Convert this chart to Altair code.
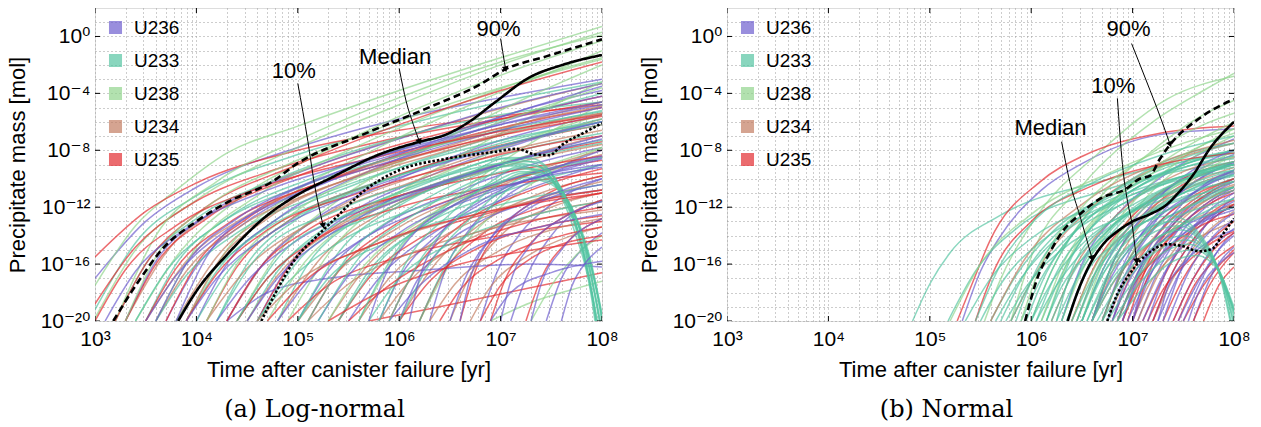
import altair as alt
import pandas as pd

ISOTOPES = ["U236", "U233", "U238", "U234", "U235"]
COLORS = ["#6a5acd", "#52c4a0", "#8fd48a", "#c27a5e", "#e3262b"]

X_EXP = [3, 4, 5, 6, 7, 8]
X_LABELS = ["10³", "10⁴", "10⁵", "10⁶", "10⁷", "10⁸"]
Y_EXP = [-20, -16, -12, -8, -4, 0]
Y_LABELS = ["10⁻²⁰", "10⁻¹⁶", "10⁻¹²", "10⁻⁸", "10⁻⁴", "10⁰"]

# ---- panel (a) log-normal: each line = flat list of log10(t), log10(mass) ----
A_U236 = [
    [3.0, -17.0, 3.5, -13.0, 4.0, -10.6, 5.0, -7.8, 6.0, -5.8, 7.0, -4.3, 8.0, -3.0],
    [3.3, -20, 3.6, -15.8, 4.1, -12.6, 5.0, -9.6, 6.0, -7.2, 7.0, -5.0, 8.0, -3.3],
    [3.7, -20, 4.0, -16.2, 4.5, -13.0, 5.3, -10.2, 6.3, -7.5, 7.3, -5.0, 8.0, -3.8],
    [4.0, -20, 4.3, -16.0, 4.8, -12.8, 5.6, -9.8, 6.6, -7.0, 7.5, -5.0, 8.0, -4.2],
    [4.3, -20, 4.6, -16.5, 5.1, -13.2, 6.0, -10.0, 7.0, -7.3, 8.0, -5.5],
    [4.6, -20, 4.9, -16.2, 5.4, -13.0, 6.3, -9.8, 7.2, -7.5, 8.0, -6.0],
    [5.0, -20, 5.3, -16.5, 5.8, -13.5, 6.6, -10.8, 7.4, -8.8, 8.0, -7.8],
    [5.5, -20, 5.8, -17.0, 6.3, -14.0, 7.0, -11.5, 8.0, -9.0],
    [6.3, -20, 6.45, -16.5, 6.7, -13.5, 7.1, -11.0, 7.6, -9.3, 8.0, -8.5],
    [6.8, -20, 6.95, -16.8, 7.2, -13.8, 7.5, -11.8, 8.0, -10.0],
    [7.1, -20, 7.25, -17.0, 7.5, -14.0, 8.0, -11.5],
    [7.45, -20, 7.6, -17.0, 7.8, -15.0, 8.0, -13.8],
    [4.3, -20, 4.7, -18.0, 5.3, -17.0, 6.3, -16.4, 7.3, -16.0, 8.0, -16.2],
    [3.8, -20, 4.1, -15.5, 4.6, -12.2, 5.3, -9.8, 6.2, -7.5, 7.2, -5.2, 8.0, -3.5],
    [5.8, -20, 6.0, -17.0, 6.4, -13.8, 7.0, -11.0, 7.7, -8.8, 8.0, -8.0],
    [6.0, -20, 6.15, -17.5, 6.4, -15.0, 6.8, -13.0, 7.4, -11.5, 8.0, -10.8],
    [3.5, -20, 3.8, -16.8, 4.3, -13.6, 5.0, -11.0, 6.0, -8.6, 7.0, -6.6, 8.0, -5.0],
    [3.9, -20, 4.2, -17.0, 4.7, -14.0, 5.4, -11.5, 6.4, -9.0, 7.4, -7.0, 8.0, -6.0],
    [4.2, -20, 4.5, -17.2, 5.0, -14.3, 5.8, -11.8, 6.8, -9.4, 8.0, -7.2],
    [4.5, -20, 4.8, -17.0, 5.3, -14.0, 6.1, -11.2, 7.1, -8.8, 8.0, -7.0],
    [4.8, -20, 5.1, -17.2, 5.6, -14.4, 6.4, -11.8, 7.3, -9.6, 8.0, -8.4],
    [3.6, -20, 3.9, -16.0, 4.4, -12.8, 5.1, -10.3, 6.1, -8.0, 7.1, -6.0, 8.0, -4.6],
    [5.2, -20, 5.5, -16.8, 6.0, -13.8, 6.8, -11.2, 7.7, -9.2, 8.0, -8.6],
    [3.1, -20, 3.4, -16.5, 3.9, -13.5, 4.7, -10.8, 5.8, -8.4, 7.0, -6.2, 8.0, -4.8],
    [6.5, -20, 6.65, -17.0, 6.9, -14.2, 7.3, -12.0, 8.0, -10.4],
    [5.9, -20, 6.2, -17.5, 6.7, -15.0, 7.5, -13.2, 8.0, -12.5],
    [6.1, -20, 6.2, -17.0, 6.4, -14.0, 6.8, -11.6, 7.4, -9.8, 8.0, -9.0],
    [6.6, -20, 6.7, -17.0, 6.9, -14.2, 7.2, -12.2, 7.7, -10.6, 8.0, -10.0],
    [7.0, -20, 7.1, -17.2, 7.3, -14.6, 7.6, -12.8, 8.0, -11.6],
    [7.3, -20, 7.4, -17.4, 7.6, -15.0, 8.0, -12.8],
    [7.6, -20, 7.7, -17.6, 7.85, -15.8, 8.0, -14.8],
    [5.7, -20, 5.85, -17.0, 6.1, -14.2, 6.5, -12.0, 7.2, -10.2, 8.0, -9.2],
    [6.9, -20, 7.1, -18.0, 7.5, -16.6, 8.0, -15.8],
]
A_U233 = [
    [3.0, -19.2, 3.4, -14.5, 4.0, -11.2, 5.0, -8.3, 6.0, -6.3, 7.0, -4.6, 8.0, -3.2],
    [3.5, -20, 3.8, -16.0, 4.3, -12.8, 5.2, -9.8, 6.3, -7.3, 7.3, -5.3, 8.0, -4.0],
    [3.9, -20, 4.2, -16.5, 4.7, -13.3, 5.6, -10.3, 6.6, -7.8, 7.6, -5.8, 8.0, -5.2],
    [4.2, -20, 4.5, -16.0, 5.0, -12.8, 5.9, -10.0, 7.0, -7.5, 8.0, -5.8],
    [4.5, -20, 4.8, -16.5, 5.3, -13.3, 6.2, -10.5, 7.2, -8.0, 8.0, -6.8],
    [3.2, -20, 3.5, -16.0, 4.0, -12.8, 4.8, -10.0, 5.8, -7.5, 7.0, -5.5, 8.0, -4.6],
    [4.8, -20, 5.1, -16.0, 5.6, -12.8, 6.5, -10.0, 7.5, -8.0, 8.0, -7.3],
    [5.4, -20, 5.7, -16.5, 6.2, -13.5, 7.0, -11.0, 8.0, -9.0],
    [3.4, -20, 3.7, -16.5, 4.2, -13.3, 5.0, -10.6, 6.0, -8.4, 7.0, -6.6, 8.0, -5.3],
    [3.8, -20, 4.1, -17.0, 4.6, -13.9, 5.4, -11.2, 6.4, -8.9, 7.4, -7.0, 8.0, -6.2],
    [4.0, -20, 4.3, -16.6, 4.8, -13.5, 5.6, -10.8, 6.6, -8.5, 7.6, -6.6, 8.0, -6.0],
    [4.4, -20, 4.7, -17.0, 5.2, -14.0, 6.0, -11.4, 7.0, -9.0, 8.0, -7.5],
    [3.6, -20, 3.9, -16.8, 4.4, -13.8, 5.2, -11.2, 6.2, -8.8, 7.2, -7.0, 8.0, -6.0],
    [4.6, -20, 4.9, -17.3, 5.4, -14.5, 6.2, -12.0, 7.2, -9.8, 8.0, -8.5],
    [5.0, -20, 5.3, -17.0, 5.9, -14.4, 6.8, -12.2, 8.0, -10.4],
    [5.7, -20, 6.0, -17.0, 6.5, -14.6, 7.3, -12.6, 8.0, -11.6],
    # decaying bundle
    [4.2, -20, 4.6, -15.5, 5.4, -12.2, 6.4, -9.8, 7.05, -8.6, 7.3, -8.8, 7.52, -10.2, 7.72, -13.5, 7.9, -18.5, 7.95, -21],
    [4.6, -20, 5.0, -15.8, 5.8, -12.4, 6.6, -10.0, 7.12, -9.1, 7.38, -9.4, 7.58, -10.9, 7.78, -14.2, 7.93, -19.0, 7.98, -21],
    [5.0, -20, 5.4, -15.2, 6.0, -11.9, 6.7, -9.6, 7.08, -8.5, 7.32, -8.6, 7.54, -10.0, 7.74, -13.2, 7.91, -18.4, 7.96, -21],
    [5.4, -20, 5.8, -15.9, 6.35, -12.8, 6.9, -10.4, 7.2, -9.5, 7.45, -9.8, 7.65, -11.4, 7.84, -14.8, 7.98, -19.2, 8.02, -21],
    [5.8, -20, 6.1, -15.5, 6.5, -12.5, 6.95, -10.0, 7.15, -9.2, 7.4, -9.5, 7.6, -11.0, 7.8, -14.4, 7.95, -19.0, 8.0, -21],
    [6.2, -20, 6.45, -16.2, 6.8, -12.8, 7.1, -10.6, 7.28, -10.0, 7.5, -10.4, 7.7, -12.0, 7.88, -15.5, 8.0, -19.5, 8.04, -21],
    [4.4, -20, 4.8, -15.6, 5.6, -12.2, 6.5, -9.7, 7.1, -8.9, 7.36, -9.1, 7.56, -10.6, 7.76, -13.9, 7.92, -18.8, 7.97, -21],
    [5.2, -20, 5.6, -15.6, 6.2, -12.3, 6.8, -10.0, 7.18, -9.3, 7.42, -9.6, 7.62, -11.1, 7.82, -14.5, 7.96, -19.1, 8.01, -21],
    [5.6, -20, 5.95, -15.3, 6.45, -12.0, 6.9, -9.7, 7.1, -8.8, 7.34, -8.8, 7.55, -10.2, 7.75, -13.4, 7.91, -18.6, 7.96, -21],
    [6.0, -20, 6.3, -16.0, 6.7, -12.8, 7.05, -10.6, 7.25, -9.9, 7.48, -10.2, 7.68, -11.8, 7.86, -15.2, 7.99, -19.4, 8.03, -21],
    [5.1, -20, 5.5, -15.4, 6.1, -12.1, 6.75, -9.8, 7.14, -9.0, 7.4, -9.2, 7.6, -10.7, 7.8, -14.0, 7.95, -18.9, 8.0, -21],
    [5.9, -20, 6.2, -15.8, 6.6, -12.6, 7.0, -10.3, 7.22, -9.6, 7.46, -10.0, 7.66, -11.6, 7.85, -15.0, 7.99, -19.3, 8.03, -21],
]
A_U238 = [
    [3.0, -17.5, 3.4, -13.3, 3.8, -10.8, 4.3, -8.2, 5.0, -6.3, 6.0, -3.8, 7.0, -1.5, 8.0, 0.7],
    [3.0, -19.8, 3.4, -15.0, 4.0, -11.5, 5.0, -7.8, 6.0, -4.8, 7.0, -2.0, 8.0, 0.3],
    [3.4, -20, 3.8, -15.5, 4.4, -11.5, 5.2, -8.3, 6.2, -5.0, 7.2, -2.2, 8.0, -0.3],
    [3.9, -20, 4.3, -15.0, 4.9, -11.3, 5.8, -7.8, 6.8, -4.5, 7.6, -2.2, 8.0, -1.0],
    [4.4, -20, 4.8, -15.3, 5.4, -11.5, 6.3, -7.8, 7.2, -4.5, 8.0, -2.0],
    [4.9, -20, 5.3, -15.3, 6.0, -11.0, 6.9, -7.2, 7.7, -4.2, 8.0, -3.2],
    [5.6, -20, 6.0, -15.0, 6.6, -11.0, 7.3, -7.5, 8.0, -4.8],
    [6.2, -20, 6.5, -16.0, 7.0, -12.0, 7.5, -9.5, 8.0, -7.8],
    [6.9, -20, 7.3, -18.7, 7.7, -17.8, 8.0, -17.2],
    [3.2, -20, 3.6, -14.0, 4.2, -10.2, 5.0, -7.3, 6.0, -4.3, 7.0, -1.8, 8.0, 0.1],
    [3.6, -20, 4.0, -14.8, 4.6, -11.2, 5.5, -8.0, 6.5, -5.0, 7.5, -2.5, 8.0, -1.5],
    [7.3, -20, 7.55, -17.0, 7.8, -15.0, 8.0, -14.0],
    [3.3, -20, 3.6, -15.5, 4.1, -12.0, 4.9, -9.0, 5.9, -6.2, 7.0, -3.6, 8.0, -1.6],
    [4.1, -20, 4.4, -16.0, 5.0, -12.2, 5.9, -9.0, 7.0, -6.0, 8.0, -3.6],
    [4.7, -20, 5.0, -16.5, 5.6, -12.6, 6.5, -9.4, 7.5, -6.6, 8.0, -5.5],
    [5.3, -20, 5.6, -16.6, 6.2, -13.0, 7.1, -10.0, 8.0, -7.8],
]
A_U234 = [
    [3.3, -20, 3.7, -15.2, 4.3, -11.8, 5.3, -8.8, 6.3, -6.5, 7.3, -4.5, 8.0, -3.3],
    [3.8, -20, 4.2, -15.5, 4.8, -12.2, 5.8, -9.3, 6.8, -7.0, 7.6, -5.3, 8.0, -4.6],
    [4.3, -20, 4.7, -15.6, 5.3, -12.4, 6.3, -9.5, 7.3, -7.2, 8.0, -5.8],
    [4.8, -20, 5.2, -15.8, 5.8, -12.5, 6.8, -9.5, 7.7, -7.5, 8.0, -7.0],
    [5.3, -20, 5.7, -16.0, 6.3, -12.8, 7.1, -10.2, 8.0, -8.3],
    [6.0, -20, 6.3, -16.5, 6.8, -13.2, 7.4, -11.0, 8.0, -9.8],
    [6.5, -20, 6.7, -16.8, 7.0, -14.0, 7.5, -12.0, 8.0, -11.0],
    [3.5, -20, 3.9, -15.8, 4.5, -12.6, 5.5, -9.6, 6.5, -7.4, 7.5, -5.6, 8.0, -4.9],
    [5.0, -20, 5.4, -16.5, 6.0, -13.4, 6.9, -10.6, 7.8, -8.4, 8.0, -8.0],
    [4.1, -20, 4.5, -16.3, 5.1, -13.2, 6.1, -10.3, 7.1, -8.0, 8.0, -6.6],
    [3.6, -20, 3.9, -16.5, 4.4, -13.5, 5.2, -10.8, 6.2, -8.6, 7.2, -6.6, 8.0, -5.4],
    [4.5, -20, 4.8, -16.8, 5.3, -13.8, 6.2, -11.0, 7.2, -8.8, 8.0, -7.6],
    [5.6, -20, 5.9, -17.0, 6.4, -14.2, 7.2, -11.8, 8.0, -10.2],
    [3.9, -20, 4.2, -16.0, 4.7, -12.8, 5.5, -10.0, 6.5, -7.8, 7.5, -6.0, 8.0, -5.4],
    [5.8, -20, 6.1, -17.2, 6.6, -14.6, 7.3, -12.6, 8.0, -11.6],
    [6.3, -20, 6.55, -17.4, 7.0, -15.0, 7.6, -13.4, 8.0, -12.8],
    [5.1, -20, 5.5, -17.4, 6.2, -15.0, 7.1, -13.2, 8.0, -12.2],
    [6.7, -20, 6.9, -17.6, 7.25, -15.5, 7.7, -14.0, 8.0, -13.4],
    [4.6, -20, 5.0, -17.2, 5.7, -14.8, 6.6, -12.8, 7.6, -11.2, 8.0, -10.8],
]
A_U235 = [
    [3.0, -15.5, 3.5, -12.3, 4.0, -10.3, 5.0, -8.0, 6.0, -6.6, 7.0, -5.6, 8.0, -4.8],
    [3.0, -18.8, 3.4, -14.8, 3.9, -12.0, 4.8, -9.3, 5.8, -7.4, 7.0, -5.8, 8.0, -4.6],
    [3.3, -20, 3.6, -16.0, 4.1, -12.8, 5.0, -9.8, 6.0, -7.6, 7.0, -5.8, 8.0, -4.2],
    [3.7, -20, 4.0, -16.0, 4.5, -12.8, 5.4, -9.8, 6.4, -7.5, 7.4, -5.8, 8.0, -5.0],
    [4.1, -20, 4.4, -16.2, 4.9, -13.0, 5.8, -10.2, 6.8, -8.0, 8.0, -6.2],
    [4.6, -20, 4.9, -16.3, 5.4, -13.2, 6.3, -10.5, 7.3, -8.4, 8.0, -7.4],
    [5.1, -20, 5.4, -16.5, 5.9, -13.5, 6.7, -11.0, 7.6, -9.2, 8.0, -8.7],
    [5.7, -20, 6.4, -19.0, 7.2, -17.8, 8.0, -16.6],
    [6.6, -20, 6.75, -16.5, 7.0, -13.6, 7.4, -11.3, 8.0, -9.8],
    [5.9, -20, 6.15, -16.5, 6.6, -13.3, 7.3, -10.8, 8.0, -9.3],
    [7.25, -20, 7.4, -17.0, 7.65, -14.5, 8.0, -12.8],
    [3.2, -20, 3.5, -16.0, 4.0, -12.5, 5.0, -9.0, 6.0, -6.2, 7.0, -3.8, 8.0, -1.8],
    [4.4, -20, 4.7, -17.0, 5.2, -14.2, 6.0, -12.0, 7.0, -10.5, 8.0, -9.6],
    [6.2, -20, 6.4, -17.0, 6.8, -14.0, 7.4, -12.0, 8.0, -11.0],
    [4.9, -20, 5.3, -17.5, 6.0, -15.5, 7.0, -14.0, 8.0, -13.0],
    [3.5, -20, 3.8, -16.3, 4.3, -13.2, 5.1, -10.6, 6.1, -8.5, 7.1, -6.8, 8.0, -5.6],
    [3.9, -20, 4.2, -16.7, 4.7, -13.6, 5.6, -11.0, 6.6, -9.0, 7.6, -7.4, 8.0, -7.0],
    [4.3, -20, 4.6, -16.5, 5.1, -13.6, 6.0, -11.2, 7.0, -9.6, 8.0, -8.4],
    [5.4, -20, 5.7, -17.0, 6.2, -14.2, 7.0, -12.2, 8.0, -10.8],
    [3.0, -20, 3.3, -16.4, 3.8, -13.3, 4.6, -10.7, 5.7, -8.6, 6.9, -6.8, 8.0, -5.5],
    [6.9, -20, 7.05, -17.0, 7.3, -14.5, 7.7, -12.4, 8.0, -11.5],
    [5.5, -20, 5.9, -17.5, 6.5, -15.0, 7.3, -13.0, 8.0, -12.0],
    [6.0, -20, 6.3, -17.2, 6.8, -14.8, 7.5, -13.2, 8.0, -12.6],
    [6.4, -20, 6.6, -17.8, 7.0, -15.6, 7.6, -14.0, 8.0, -13.4],
    [5.3, -20, 5.8, -18.0, 6.6, -16.0, 7.5, -14.8, 8.0, -14.3],
    [6.8, -20, 7.0, -17.5, 7.3, -15.6, 7.7, -14.4, 8.0, -14.0],
    [4.7, -20, 5.1, -17.0, 5.8, -14.5, 6.7, -12.6, 7.6, -11.4, 8.0, -11.0],
]
A_MEDIAN = [3.82, -20, 4.0, -17.9, 4.32, -15.2, 4.66, -12.8, 4.98, -11.2, 5.31, -10.0, 5.8, -8.3,
            6.2, -7.4, 6.46, -6.9, 6.69, -6.0, 6.95, -4.6, 7.28, -2.9, 7.61, -2.0, 8.0, -1.3]
A_P90 = [3.18, -20, 3.43, -17.2, 3.67, -14.9, 4.0, -13.0, 4.32, -11.6, 4.75, -10.2, 4.98, -9.0,
         5.64, -6.9, 6.29, -5.0, 6.79, -3.4, 7.05, -2.3, 7.45, -1.4, 8.0, -0.2]
A_P10 = [4.64, -20, 4.79, -17.9, 4.98, -15.6, 5.18, -14.1, 5.31, -13.2, 5.7, -10.6, 6.0, -9.4,
         6.46, -8.6, 6.95, -8.1, 7.15, -7.9, 7.35, -8.3, 7.48, -8.35, 7.61, -7.6, 7.84, -6.7, 8.0, -6.1]

# ---- panel (b) normal ----
B_U236 = [
    [5.32, -20, 5.5, -16.5, 5.69, -14.1, 6.1, -10.8, 6.51, -8.9, 7.27, -6.9, 8.0, -6.5],
    [6.3, -20, 6.5, -16.0, 6.85, -12.5, 7.3, -9.8, 8.0, -7.2],
    [6.5, -20, 6.7, -16.5, 7.0, -13.0, 7.5, -10.0, 8.0, -8.3],
    [6.7, -20, 6.9, -16.2, 7.2, -12.8, 7.6, -10.3, 8.0, -8.8],
    [6.8, -20, 7.0, -15.8, 7.3, -12.3, 7.7, -9.8, 8.0, -8.9],
    [6.9, -20, 7.1, -16.2, 7.4, -13.0, 7.75, -11.0, 8.0, -10.0],
    [7.05, -20, 7.25, -16.5, 7.5, -13.6, 7.8, -11.6, 8.0, -10.8],
    [7.2, -20, 7.4, -16.5, 7.65, -13.8, 8.0, -11.8],
    [7.4, -20, 7.6, -17.0, 7.8, -14.8, 8.0, -13.5],
    [7.6, -20, 7.8, -16.5, 8.0, -14.8],
    [6.95, -20, 7.15, -17.0, 7.45, -14.2, 7.8, -12.5, 8.0, -12.0],
    [6.6, -20, 6.8, -16.0, 7.1, -12.6, 7.55, -9.6, 8.0, -8.0],
    [7.3, -20, 7.5, -16.0, 7.75, -13.0, 8.0, -11.3],
    [7.5, -20, 7.7, -16.8, 7.9, -14.5, 8.0, -13.8],
    [6.75, -20, 6.95, -16.4, 7.25, -13.2, 7.65, -10.8, 8.0, -9.4],
    [6.85, -20, 7.05, -16.6, 7.35, -13.6, 7.7, -11.4, 8.0, -10.2],
    [7.0, -20, 7.2, -16.4, 7.45, -13.6, 7.8, -11.4, 8.0, -10.6],
    [7.1, -20, 7.3, -16.8, 7.55, -14.2, 7.85, -12.2, 8.0, -11.6],
    [7.15, -20, 7.35, -16.2, 7.6, -13.4, 8.0, -11.0],
    [7.25, -20, 7.45, -16.8, 7.7, -14.2, 8.0, -12.4],
    [7.35, -20, 7.55, -16.6, 7.8, -14.0, 8.0, -12.9],
    [6.6, -20, 6.8, -16.8, 7.1, -13.8, 7.55, -11.2, 8.0, -9.6],
    [7.45, -20, 7.65, -17.2, 7.85, -15.0, 8.0, -14.0],
    [6.9, -20, 7.1, -15.8, 7.4, -12.5, 7.75, -10.2, 8.0, -9.4],
    [7.0, -20, 7.1, -17.4, 7.3, -15.2, 7.6, -13.4, 8.0, -12.2],
    [7.25, -20, 7.35, -17.6, 7.55, -15.6, 7.8, -14.2, 8.0, -13.6],
    [6.8, -20, 6.95, -17.4, 7.2, -15.0, 7.6, -13.0, 8.0, -12.0],
    [7.55, -20, 7.65, -18.0, 7.85, -16.0, 8.0, -15.2],
]
B_U233 = [
    [4.83, -20, 5.0, -17.4, 5.2, -15.2, 5.69, -12.6, 6.68, -10.2, 8.0, -8.1],
    [5.18, -20, 5.45, -16.5, 5.89, -13.3, 6.68, -10.9, 8.0, -8.8],
    [5.6, -20, 5.85, -16.8, 6.2, -13.8, 6.8, -11.0, 7.5, -8.8, 8.0, -8.0],
    [5.7, -20, 5.95, -16.5, 6.3, -13.5, 6.9, -10.5, 7.6, -8.3, 8.0, -7.5],
    [5.9, -20, 6.1, -17.0, 6.4, -14.0, 6.9, -11.0, 7.5, -9.0, 8.0, -8.0],
    [6.0, -20, 6.2, -16.5, 6.5, -13.0, 7.0, -10.0, 7.5, -8.3, 8.0, -7.5],
    [6.1, -20, 6.35, -16.0, 6.7, -12.5, 7.2, -10.0, 8.0, -8.0],
    [6.15, -20, 6.4, -15.5, 6.8, -12.0, 7.4, -9.3, 8.0, -8.2],
    [6.25, -20, 6.45, -17.0, 6.8, -13.5, 7.3, -11.0, 8.0, -9.0],
    [6.35, -20, 6.55, -16.5, 6.9, -13.0, 7.4, -10.5, 8.0, -9.0],
    [6.5, -20, 6.7, -16.5, 7.0, -13.5, 7.5, -11.0, 8.0, -9.5],
    [6.6, -20, 6.8, -16.0, 7.1, -13.0, 7.6, -11.0, 8.0, -10.0],
    [5.45, -20, 5.7, -16.0, 6.05, -12.8, 6.6, -10.3, 7.3, -8.3, 8.0, -7.0],
    [6.05, -20, 6.25, -17.5, 6.55, -14.8, 7.0, -12.3, 7.6, -10.5, 8.0, -9.8],
    [5.8, -20, 6.0, -17.2, 6.35, -14.2, 6.95, -11.6, 7.6, -9.6, 8.0, -8.8],
    [5.95, -20, 6.15, -16.6, 6.45, -13.6, 6.95, -11.0, 7.6, -9.0, 8.0, -8.4],
    [6.2, -20, 6.4, -16.8, 6.7, -14.0, 7.2, -11.5, 7.8, -9.8, 8.0, -9.4],
    [6.3, -20, 6.5, -16.2, 6.85, -13.0, 7.35, -10.6, 8.0, -8.8],
    [6.4, -20, 6.6, -17.0, 6.95, -14.0, 7.45, -11.8, 8.0, -10.2],
    [6.45, -20, 6.65, -16.3, 7.0, -13.2, 7.5, -11.0, 8.0, -9.7],
    [6.55, -20, 6.75, -16.8, 7.05, -14.2, 7.55, -12.0, 8.0, -10.8],
    [6.7, -20, 6.9, -16.5, 7.2, -13.6, 7.65, -11.6, 8.0, -10.6],
    [6.0, -20, 6.2, -17.3, 6.5, -14.6, 7.0, -12.2, 7.6, -10.4, 8.0, -9.7],
    [5.65, -20, 5.9, -17.0, 6.25, -14.2, 6.8, -11.8, 7.5, -9.8, 8.0, -9.0],
    [6.85, -20, 7.05, -16.8, 7.35, -14.0, 7.75, -12.2, 8.0, -11.4],
    [5.35, -20, 5.6, -17.0, 6.0, -14.2, 6.6, -12.0, 7.4, -10.0, 8.0, -9.2],
    [5.75, -20, 5.95, -17.6, 6.3, -15.0, 6.85, -12.8, 7.5, -11.0, 8.0, -10.2],
    [5.85, -20, 6.05, -16.4, 6.4, -13.2, 6.9, -10.8, 7.5, -9.2, 8.0, -8.6],
    [6.05, -20, 6.25, -16.6, 6.6, -13.4, 7.1, -11.0, 7.7, -9.4, 8.0, -9.0],
    [6.15, -20, 6.3, -17.6, 6.6, -15.0, 7.05, -12.8, 7.7, -11.0, 8.0, -10.6],
    [6.25, -20, 6.4, -16.4, 6.75, -13.2, 7.25, -10.9, 8.0, -9.0],
    [6.35, -20, 6.5, -17.2, 6.85, -14.4, 7.35, -12.2, 8.0, -10.6],
    [5.5, -20, 5.7, -17.4, 6.1, -14.4, 6.7, -12.0, 7.4, -10.2, 8.0, -9.4],
    [6.5, -20, 6.65, -17.4, 6.95, -14.8, 7.4, -12.8, 8.0, -11.4],
    [6.6, -20, 6.75, -17.6, 7.05, -15.2, 7.5, -13.2, 8.0, -12.0],
    # decaying bundle
    [6.55, -20, 6.8, -16.5, 7.15, -14.0, 7.45, -13.3, 7.7, -14.5, 7.9, -17.5, 8.02, -21],
    [6.65, -20, 6.9, -17.0, 7.25, -14.6, 7.5, -14.0, 7.75, -15.2, 7.93, -18.0, 8.05, -21],
    [6.75, -20, 7.0, -17.3, 7.3, -15.2, 7.55, -14.6, 7.8, -15.8, 7.96, -18.5, 8.08, -21],
    [6.6, -20, 6.85, -16.8, 7.2, -14.3, 7.48, -13.6, 7.72, -14.8, 7.91, -17.7, 8.03, -21],
    [6.7, -20, 6.95, -17.1, 7.28, -14.9, 7.52, -14.3, 7.78, -15.5, 7.95, -18.2, 8.06, -21],
    [6.8, -20, 7.05, -17.5, 7.35, -15.5, 7.6, -15.0, 7.83, -16.2, 7.98, -18.8, 8.1, -21],
    [6.5, -20, 6.75, -16.2, 7.1, -13.6, 7.42, -13.0, 7.68, -14.2, 7.88, -17.2, 8.0, -21],
    [6.45, -20, 6.7, -16.0, 7.05, -13.3, 7.38, -12.6, 7.65, -13.8, 7.86, -16.8, 7.99, -21],
    [6.85, -20, 7.1, -17.7, 7.4, -15.8, 7.63, -15.4, 7.86, -16.6, 8.0, -19.0, 8.12, -21],
]
B_U238 = [
    [5.54, -20, 5.69, -17.2, 6.02, -13.0, 6.68, -8.1, 7.34, -4.4, 8.0, -2.8],
    [5.8, -20, 6.0, -15.5, 6.5, -10.5, 7.2, -6.0, 7.7, -3.8, 8.0, -2.6],
    [6.0, -20, 6.2, -16.5, 6.6, -12.0, 7.2, -8.0, 7.7, -5.5, 8.0, -4.5],
    [6.3, -20, 6.5, -16.5, 6.9, -12.5, 7.5, -8.5, 8.0, -6.5],
    [5.2, -20, 5.5, -16.0, 6.0, -12.5, 6.8, -9.5, 7.5, -7.5, 8.0, -6.5],
    [6.5, -20, 6.7, -16.0, 7.0, -12.5, 7.5, -9.0, 8.0, -7.0],
    [6.15, -20, 6.35, -16.0, 6.75, -12.0, 7.3, -8.8, 8.0, -6.0],
    [6.7, -20, 6.9, -16.5, 7.2, -13.0, 7.6, -10.0, 8.0, -8.4],
    [6.1, -20, 6.3, -16.2, 6.65, -12.6, 7.2, -9.6, 7.7, -7.6, 8.0, -6.8],
    [6.4, -20, 6.6, -16.6, 6.95, -13.2, 7.45, -10.4, 8.0, -8.0],
    [5.9, -20, 6.1, -16.0, 6.5, -12.0, 7.1, -8.6, 7.7, -6.2, 8.0, -5.4],
]
B_U234 = [
    [6.6, -20, 6.8, -16.5, 7.1, -13.0, 7.6, -10.5, 8.0, -9.5],
    [6.9, -20, 7.1, -16.5, 7.4, -13.5, 7.8, -11.2, 8.0, -10.5],
    [6.2, -20, 6.45, -16.0, 6.85, -12.5, 7.5, -9.5, 8.0, -8.5],
    [5.8, -20, 6.1, -16.0, 6.6, -12.0, 7.3, -9.0, 8.0, -7.5],
    [7.2, -20, 7.4, -17.0, 7.7, -14.0, 8.0, -12.3],
    [5.6, -20, 5.95, -15.5, 6.5, -11.8, 7.3, -8.8, 8.0, -7.3],
    [6.75, -20, 6.95, -16.8, 7.25, -13.8, 7.7, -11.3, 8.0, -10.4],
    [6.85, -20, 7.05, -16.6, 7.35, -13.6, 7.75, -11.4, 8.0, -10.6],
    [7.05, -20, 7.25, -16.8, 7.5, -14.2, 7.85, -12.2, 8.0, -11.8],
    [6.45, -20, 6.65, -16.4, 7.0, -13.2, 7.5, -10.6, 8.0, -9.2],
    [7.0, -20, 7.15, -17.6, 7.4, -15.4, 7.8, -13.6, 8.0, -13.0],
    [6.6, -20, 6.8, -17.4, 7.1, -15.0, 7.55, -13.0, 8.0, -11.8],
]
B_U235 = [
    [5.27, -20, 5.45, -16.8, 5.59, -14.4, 6.09, -10.2, 6.51, -8.4, 7.27, -6.8, 8.0, -6.3],
    [6.8, -20, 7.0, -16.5, 7.3, -13.5, 7.7, -11.0, 8.0, -10.0],
    [7.1, -20, 7.3, -17.0, 7.55, -14.0, 7.85, -12.0, 8.0, -11.5],
    [6.6, -20, 6.8, -16.0, 7.1, -12.8, 7.6, -10.0, 8.0, -9.0],
    [7.3, -20, 7.5, -17.0, 7.75, -14.5, 8.0, -13.0],
    [6.4, -20, 6.6, -16.5, 6.95, -13.0, 7.5, -10.0, 8.0, -8.8],
    [7.5, -20, 7.7, -17.5, 8.0, -15.0],
    [6.95, -20, 7.15, -16.0, 7.45, -12.8, 7.8, -10.8, 8.0, -10.2],
    [7.7, -20, 7.85, -17.5, 8.0, -16.2],
    [5.45, -20, 5.65, -16.2, 6.0, -13.0, 6.6, -10.5, 7.4, -8.8, 8.0, -8.2],
    [6.9, -20, 7.1, -16.8, 7.4, -13.8, 7.8, -11.6, 8.0, -11.0],
    [7.2, -20, 7.4, -16.5, 7.65, -13.8, 8.0, -11.8],
    [7.0, -20, 7.2, -16.0, 7.5, -13.2, 7.85, -11.2, 8.0, -10.8],
    [7.4, -20, 7.6, -17.0, 7.8, -15.0, 8.0, -13.8],
    [6.7, -20, 6.9, -16.5, 7.2, -13.5, 7.6, -11.2, 8.0, -10.0],
    [7.6, -20, 7.75, -17.6, 7.9, -16.0, 8.0, -15.2],
    [7.15, -20, 7.3, -17.8, 7.55, -15.8, 7.85, -14.2, 8.0, -13.7],
    [6.85, -20, 7.0, -17.6, 7.3, -15.2, 7.7, -13.2, 8.0, -12.5],
    [7.45, -20, 7.6, -17.6, 7.8, -15.8, 8.0, -14.7],
]
B_MEDIAN = [6.36, -20, 6.45, -18.1, 6.58, -16.0, 6.71, -14.6, 6.85, -13.7, 7.0, -13.0, 7.17, -12.5,
            7.34, -11.8, 7.45, -11.0, 7.6, -9.7, 7.76, -7.9, 8.0, -6.0]
B_P90 = [5.94, -20, 6.06, -17.0, 6.19, -15.1, 6.31, -13.7, 6.48, -12.5, 6.68, -11.4, 6.94, -10.7,
         7.07, -10.0, 7.17, -9.8, 7.27, -8.6, 7.37, -7.6, 7.66, -5.75, 8.0, -4.4]
B_P10 = [6.75, -20, 6.85, -18.1, 6.97, -16.7, 7.07, -15.8, 7.2, -15.0, 7.34, -14.6, 7.47, -14.7,
         7.66, -15.1, 7.79, -14.9, 7.89, -13.9, 8.0, -12.8]

# ---- annotations: label, label position, arrow path (log10 coords), arrowhead angle ----
A_NOTES = [
    ("10%", 4.96, -2.4, [5.0, -3.3, 5.1, -7.4, 5.16, -10.2, 5.25, -13.3], 349),
    ("Median", 5.96, -1.45, [6.0, -2.25, 6.07, -4.6, 6.14, -6.2, 6.2, -7.4], 341),
    ("90%", 6.98, 0.55, [7.0, -0.15, 7.02, -1.05, 7.05, -2.3], 350),
]
B_NOTES = [
    ("90%", 6.96, 0.5, [6.99, -0.5, 7.14, -3.2, 7.27, -5.6, 7.37, -7.6], 340),
    ("10%", 6.81, -3.5, [6.85, -4.35, 6.9, -9.0, 6.95, -11.6, 6.99, -13.0, 7.04, -15.8], 353),
    ("Median", 6.19, -6.4, [6.3, -7.4, 6.38, -10.2, 6.48, -12.6, 6.6, -15.6], 344),
]

FONT = "Liberation Sans"
TICK_FONT = "Liberation Sans, DejaVu Sans"
COLOR_OF = dict(zip(ISOTOPES, COLORS))
W, H = 507, 313


def line_frame(groups):
    rows = []
    longest = max(len(g) for g in groups.values())
    for i in range(longest):
        for iso in ISOTOPES:
            lines = groups.get(iso, [])
            if i < len(lines):
                flat = lines[i]
                for k in range(0, len(flat), 2):
                    rows.append(dict(iso=iso, col=COLOR_OF[iso], lid=f"{iso}-{i}", o=k // 2,
                                     t=10 ** flat[k], m=10 ** flat[k + 1]))
    return pd.DataFrame(rows)


def stat_frame(med, p90, p10):
    rows = []
    for name, flat in (("Median", med), ("90%", p90), ("10%", p10)):
        for k in range(0, len(flat), 2):
            rows.append(dict(stat=name, o=k // 2, t=10 ** flat[k], m=10 ** flat[k + 1]))
    return pd.DataFrame(rows)


def note_frames(notes):
    labels, paths, heads = [], [], []
    for name, lx, ly, path, ang in notes:
        labels.append(dict(txt=name, t=10 ** lx, m=10 ** ly))
        for k in range(0, len(path), 2):
            paths.append(dict(note=name, o=k // 2, t=10 ** path[k], m=10 ** path[k + 1]))
        heads.append(dict(note=name, t=10 ** path[-2], m=10 ** path[-1], ang=ang))
    return pd.DataFrame(labels), pd.DataFrame(paths), pd.DataFrame(heads)


def label_expr(exps, labels):
    parts = [f"abs(log(datum.value)/LN10 - ({e})) < 0.01 ? '{l}'" for e, l in zip(exps, labels)]
    return " : ".join(parts) + " : ''"


X_GRID = [m * 10 ** d for d in range(3, 8) for m in range(1, 10)] + [1e8]
Y_GRID = [float(f"1e{e}") for e in range(-20, 2)]

x_scale = alt.Scale(type="log", domain=[1e3, 1e8], nice=False)
y_scale = alt.Scale(type="log", domain=[1e-20, 1e2], nice=False)

x_axis = alt.Axis(values=X_GRID, labelExpr=label_expr(X_EXP, X_LABELS), grid=True,
                  gridDash=[1, 3], gridColor="#9a9a9a", ticks=False, domain=False,
                  labelFont=TICK_FONT, labelFontSize=21, labelColor="black", labelPadding=7,
                  labelFlush=False, labelOverlap=False, titleFont=FONT, titleFontSize=22,
                  titleFontWeight="normal", titleColor="black", titlePadding=10)
y_axis = alt.Axis(values=Y_GRID, labelExpr=label_expr(Y_EXP, Y_LABELS), grid=True,
                  gridDash=[1, 3], gridColor="#9a9a9a", ticks=False, domain=False,
                  labelFont=TICK_FONT, labelFontSize=21, labelColor="black", labelPadding=5,
                  labelFlush=False, labelOverlap=False, titleFont=FONT, titleFontSize=22,
                  titleFontWeight="normal", titleColor="black", titlePadding=10)

LEGEND = alt.Legend(orient="none", legendX=11, legendY=10, symbolType="square",
                    symbolSize=140, symbolOpacity=0.42, symbolStrokeWidth=1.2,
                    labelFont=FONT, labelFontSize=19, labelColor="black",
                    rowPadding=13, labelOffset=9, padding=0)


def panel(groups, med, p90, p10, notes, caption):
    lines = alt.Chart(line_frame(groups)).mark_line(
        strokeWidth=1.5, opacity=0.68, clip=True, interpolate="monotone"
    ).encode(
        x=alt.X("t:Q", scale=x_scale, axis=x_axis, title="Time after canister failure [yr]"),
        y=alt.Y("m:Q", scale=y_scale, axis=y_axis, title="Precipitate mass [mol]"),
        stroke=alt.Stroke("col:N", scale=None),
        detail="lid:N",
        order="o:Q",
    )
    stats = alt.Chart(stat_frame(med, p90, p10)).mark_line(
        color="black", strokeWidth=2.6, clip=True, interpolate="monotone"
    ).encode(
        x=alt.X("t:Q", scale=x_scale),
        y=alt.Y("m:Q", scale=y_scale),
        strokeDash=alt.StrokeDash("stat:N", scale=alt.Scale(domain=["Median", "90%", "10%"],
                                                            range=[[1, 0], [7, 4], [2.5, 2]]),
                                  legend=None),
        detail="stat:N",
        order="o:Q",
    )
    lab, path, head = note_frames(notes)
    arrows = alt.Chart(path).mark_line(color="black", strokeWidth=1, interpolate="monotone").encode(
        x=alt.X("t:Q", scale=x_scale), y=alt.Y("m:Q", scale=y_scale), detail="note:N", order="o:Q")
    heads = alt.Chart(head).mark_point(shape="triangle-down", filled=True, color="black",
                                       size=45, opacity=1).encode(
        x=alt.X("t:Q", scale=x_scale), y=alt.Y("m:Q", scale=y_scale),
        angle=alt.Angle("ang:Q", scale=None))
    texts = alt.Chart(lab).mark_text(font=FONT, fontSize=22, color="black").encode(
        x=alt.X("t:Q", scale=x_scale), y=alt.Y("m:Q", scale=y_scale), text="txt:N")
    # inward tick marks on all four sides at the labelled decades
    xt = pd.DataFrame(dict(t=[10.0 ** e for e in X_EXP]))
    yt = pd.DataFrame(dict(m=[10.0 ** e for e in Y_EXP]))
    xticks = [alt.Chart(xt).mark_tick(orient="vertical", size=10, thickness=1, color="black",
                                      clip=True, opacity=1).encode(
        x=alt.X("t:Q", scale=x_scale), y=alt.value(v)) for v in (0, H)]
    yticks = [alt.Chart(yt).mark_tick(orient="horizontal", size=10, thickness=1, color="black",
                                      clip=True, opacity=1).encode(
        y=alt.Y("m:Q", scale=y_scale), x=alt.value(v)) for v in (0, W)]
    # legend carrier: points sit outside the x domain and are clipped away
    legend_df = pd.DataFrame(dict(iso=ISOTOPES, t=[1e2] * 5, m=[1e-10] * 5))
    iso_scale = alt.Scale(domain=ISOTOPES, range=COLORS)
    leg = alt.Chart(legend_df).mark_square(size=10, clip=True).encode(
        x=alt.X("t:Q", scale=x_scale), y=alt.Y("m:Q", scale=y_scale),
        fill=alt.Fill("iso:N", scale=iso_scale, title=None, legend=LEGEND),
        stroke=alt.Stroke("iso:N", scale=iso_scale, title=None, legend=LEGEND),
    )
    return alt.layer(lines, stats, arrows, heads, texts, *xticks, *yticks, leg).properties(
        width=W, height=H,
        title=alt.TitleParams(text=caption, orient="bottom", anchor="middle", font="DejaVu Serif",
                              fontSize=24, fontWeight="normal", color="black", dx=-34, offset=18),
    )


pa = panel({"U236": A_U236, "U233": A_U233, "U238": A_U238, "U234": A_U234, "U235": A_U235},
           A_MEDIAN, A_P90, A_P10, A_NOTES, "(a) Log-normal")
pb = panel({"U236": B_U236, "U233": B_U233, "U238": B_U238, "U234": B_U234, "U235": B_U235},
           B_MEDIAN, B_P90, B_P10, B_NOTES, "(b) Normal")

chart = alt.hconcat(pa, pb, spacing=19).resolve_scale(
    fill="independent", stroke="independent", strokeDash="independent"
).resolve_legend(fill="independent", stroke="independent").properties(
    padding={"left": 6, "top": 7, "right": 5, "bottom": 0}
).configure_view(stroke="black", strokeWidth=1.2).configure(background="white")

chart.save("out.html", embed_options={"renderer": "svg", "actions": False})
